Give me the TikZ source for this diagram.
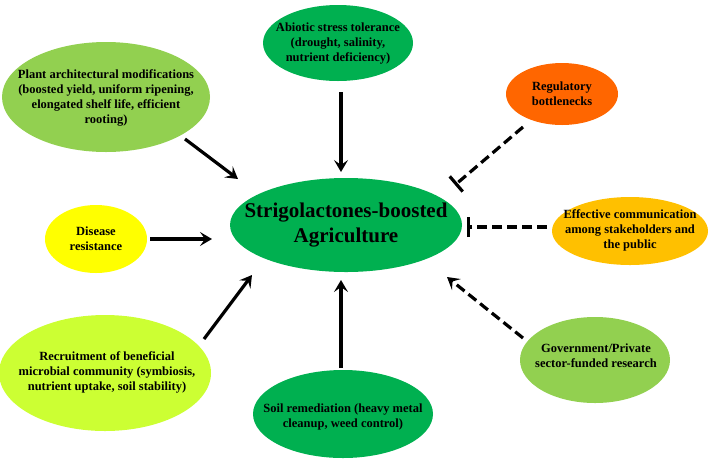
\documentclass[tikz,border=0pt]{standalone}
\usepackage{fontspec}
\setmainfont{Liberation Serif}
\usetikzlibrary{shapes.geometric,arrows.meta,calc}
\definecolor{dkgreen}{RGB}{0,176,80}
\definecolor{ltgreen}{RGB}{146,208,80}
\definecolor{lime}{RGB}{204,255,51}
\definecolor{yel}{RGB}{255,255,0}
\definecolor{orng}{RGB}{255,102,0}
\definecolor{gold}{RGB}{255,192,0}
\tikzset{
  blob/.style={ellipse, draw=none, inner sep=0pt},
  txt/.style={align=center, font=\fontsize{12.5}{15}\selectfont\bfseries, text=black},
  arr/.style={line width=3.2pt, -{Stealth[length=12pt,width=14pt,inset=5pt]}},
  darr/.style={line width=3.2pt, dash pattern=on 10pt off 5pt, -{Stealth[length=12pt,width=14pt,inset=5pt]}},
  dbar/.style={line width=3.2pt, dash pattern=on 10pt off 5pt, -{Bar[width=20pt,line width=3.2pt]}}
}
\begin{document}
\begin{tikzpicture}[x=1pt,y=-1pt]
\useasboundingbox (0,0) rectangle (709,459);
% ellipses
\node[blob, fill=dkgreen, minimum width=232pt, minimum height=94pt] (main) at (346,225) {};
\node[align=center, font=\fontsize{21}{25}\selectfont\bfseries] (maint) at (main) {Strigolactones-boosted\\Agriculture};

\node[blob, fill=dkgreen, minimum width=150pt, minimum height=76pt] (abio) at (338,43) {};
\node[txt] (abiot) at (338,44) {Abiotic stress tolerance\\(drought, salinity,\\nutrient deficiency)};

\node[blob, fill=ltgreen, minimum width=208pt, minimum height=110pt] (plant) at (106,97) {};
\node[txt] (plantt) at (106,98) {Plant architectural modifications\\(boosted yield, uniform ripening,\\elongated shelf life, efficient\\rooting)};

\node[blob, fill=orng, minimum width=112pt, minimum height=62pt] (reg) at (562,94) {};
\node[txt] (regt) at (562,94) {Regulatory\\bottlenecks};

\node[blob, fill=gold, minimum width=156pt, minimum height=68pt] (comm) at (630,231) {};
\node[txt] (commt) at (630,230) {Effective communication\\among stakeholders and\\the public};

\node[blob, fill=yel, minimum width=102pt, minimum height=68pt] (dis) at (96,239) {};
\node[txt] (dist) at (96,239) {Disease\\resistance};

\node[blob, fill=lime, minimum width=212pt, minimum height=116pt] (recr) at (105,373) {};
\node[txt] (recrt) at (107,372) {Recruitment of beneficial\\microbial community (symbiosis,\\nutrient uptake, soil stability)};

\node[blob, fill=dkgreen, minimum width=180pt, minimum height=88pt] (soil) at (343,414) {};
\node[txt] (soilt) at (343,417) {Soil remediation (heavy metal\\cleanup, weed control)};

\node[blob, fill=ltgreen, minimum width=150pt, minimum height=86pt] (gov) at (595,360) {};
\node[txt] (govt) at (596,356) {Government/Private\\sector-funded research};

% connectors
\draw[arr] ($(abio.center)+(3,49)$) -- ($(main.center)+(-5,-53)$);
\draw[arr] ($(plant.center)+(79,42)$) -- ($(main.center)+(-108,-46)$);
\draw[arr] ($(dis.center)+(54,0)$) -- ($(main.center)+(-134,14)$);
\draw[arr] ($(recr.center)+(99,-34)$) -- ($(main.center)+(-94,50)$);
\draw[arr] ($(soil.center)+(-2,-46)$) -- ($(main.center)+(-5,55)$);
\draw[darr] ($(gov.center)+(-72,-22)$) -- ($(main.center)+(101,52)$);
\draw[dbar] ($(reg.center)+(-39,33)$) -- ($(main.center)+(109,-40)$);
\draw[dbar] ($(comm.center)+(-83,-4)$) -- ($(main.center)+(121,2)$);
\end{tikzpicture}
\end{document}
